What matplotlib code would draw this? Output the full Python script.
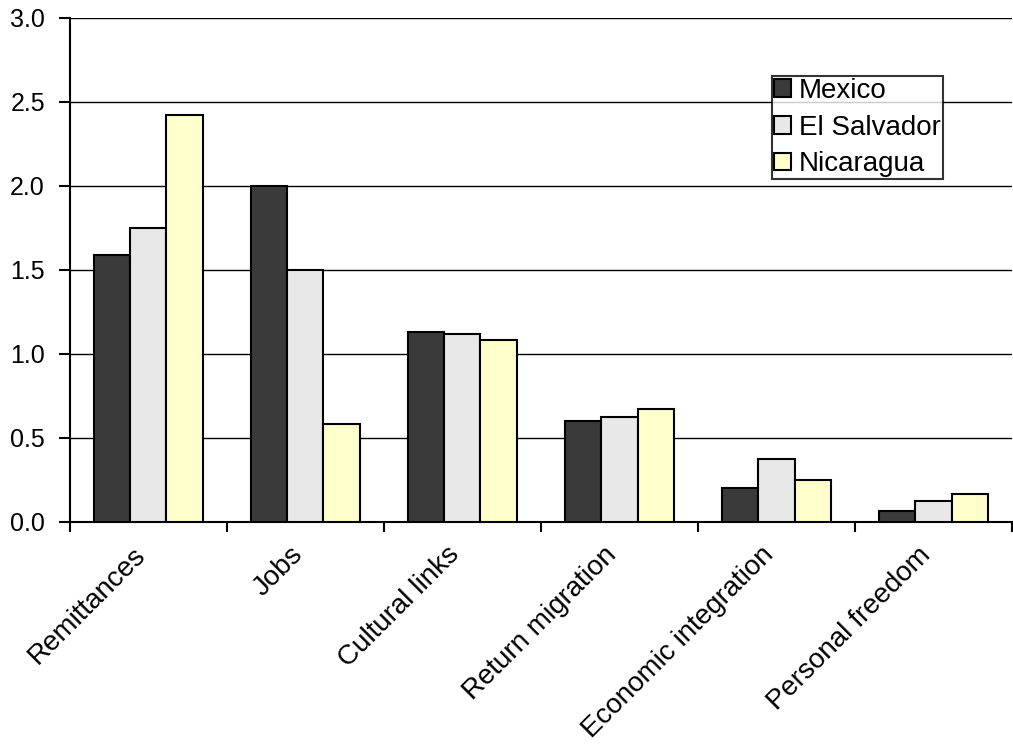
import numpy as np
import matplotlib
matplotlib.use("Agg")
import matplotlib.pyplot as plt

plt.rcParams['font.family'] = ['Liberation Sans', 'DejaVu Sans']

categories = ["Remittances", "Jobs", "Cultural links", "Return migration",
              "Economic integration", "Personal freedom"]
mexico = [1.59, 2.00, 1.13, 0.60, 0.20, 0.06]
el_salvador = [1.75, 1.50, 1.12, 0.62, 0.37, 0.12]
nicaragua = [2.42, 0.58, 1.08, 0.67, 0.25, 0.165]
series_names = ["Mexico", "El Salvador", "Nicaragua"]
series_colors = ["#3a3a3a", "#e8e8e8", "#ffffcc"]

fig = plt.figure(figsize=(10.13, 7.44), dpi=100)
ax = fig.add_axes([0.069, 0.299, 0.930, 0.677])

x = np.arange(len(categories))
width = 0.23
for i, (vals, name, col) in enumerate(zip([mexico, el_salvador, nicaragua], series_names, series_colors)):
    ax.bar(x + (i - 1) * width, vals, width, color=col, edgecolor='black',
           linewidth=1.5, label=name, zorder=3)

ax.set_xlim(-0.5, len(categories) - 0.5)
ax.set_ylim(0, 3.0)
ax.set_yticks(np.arange(0, 3.01, 0.5))
ax.set_yticklabels([f"{v:.1f}" for v in np.arange(0, 3.01, 0.5)], fontsize=18)
ax.yaxis.grid(True, color='black', linewidth=1.0, zorder=0)

# tick marks at category boundaries, labels placed by hand at the centers
ax.set_xticks(np.arange(-0.5, len(categories), 1.0))
ax.set_xticklabels([])
ax.tick_params(axis='x', length=7, width=1.5, direction='out')
ax.tick_params(axis='y', length=8, width=1.5, direction='out', pad=10)
for xi, lab in zip(x, categories):
    ax.text(xi - 0.1, -0.12, lab, rotation=45, ha='right', va='top',
            rotation_mode='anchor', fontsize=20)

for side in ['top', 'right']:
    ax.spines[side].set_visible(False)
for side in ['left', 'bottom']:
    ax.spines[side].set_linewidth(1.5)

leg = ax.legend(loc='upper left', bbox_to_anchor=(0.745, 0.885), fontsize=20,
                frameon=True, fancybox=False, edgecolor='black',
                handlelength=0.6, handleheight=0.6, handletextpad=0.3,
                borderpad=0.08, labelspacing=0.38, borderaxespad=0)
leg.get_frame().set_linewidth(1.5)

fig.savefig("out.png", dpi=100)
